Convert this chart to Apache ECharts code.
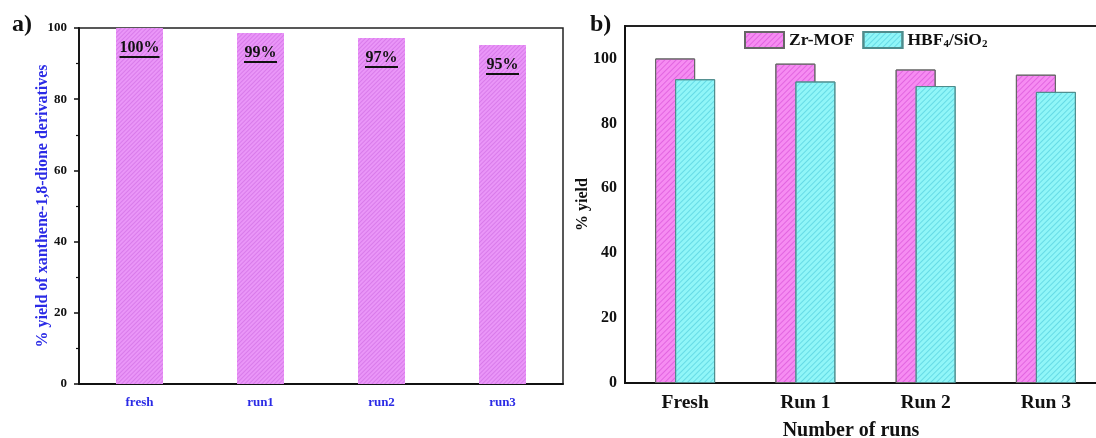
<!DOCTYPE html>
<html>
<head>
<meta charset="utf-8">
<script src="https://cdn.jsdelivr.net/npm/echarts@6/dist/echarts.min.js"></script>
<style>html,body{margin:0;padding:0;background:#fff;overflow:hidden;width:1096px;height:438px;}#c{width:1112px;height:438px;}</style>
</head>
<body>
<div id="c"></div>
<script>
// ---- Panel a) data ----
const catsA = ['fresh', 'run1', 'run2', 'run3'];
const yieldA = [100, 98.6, 97.2, 95.2];
const labelsA = ['100%', '99%', '97%', '95%'];
// ---- Panel b) data ----
const catsB = ['Fresh', 'Run 1', 'Run 2', 'Run 3'];
const zrMof = [100, 98.4, 96.6, 95.0];
const hbf4 = [93.6, 92.9, 91.5, 89.7];
const seriesNamesB = ['Zr-MOF', 'HBF4/SiO2'];

const SERIF = '"Liberation Serif", "DejaVu Serif", serif';
const BLUE = '#2b2be6';

function hatch(color, gap) {
  return { symbol: 'rect', symbolSize: 1, dashArrayX: [1, 0], dashArrayY: [1, gap], rotation: -Math.PI / 4, color: color };
}

const chart = echarts.init(document.getElementById('c'), null, { renderer: 'canvas' });
const option = {
  animation: false,
  backgroundColor: '#fff',
  grid: [
    { left: 79, top: 28, width: 484, height: 356, show: true, borderColor: '#222', borderWidth: 1.5, containLabel: false },
    { left: 625, top: 26, width: 481, height: 357, show: true, borderColor: '#222', borderWidth: 1.8, containLabel: false }
  ],
  legend: {
    left: 739, top: 26, itemWidth: 39, itemHeight: 16, itemGap: 8, icon: 'rect',
    data: seriesNamesB,
    formatter: function (n) { return n === 'HBF4/SiO2' ? 'HBF{s|4}/SiO{s|2}' : n; },
    textStyle: {
      fontFamily: SERIF, fontWeight: 'bold', fontSize: 17.5, color: '#111',
      rich: { s: { fontFamily: SERIF, fontWeight: 'bold', fontSize: 11, color: '#111', verticalAlign: 'bottom', padding: [9, 0, 0, 0] } }
    }
  },
  xAxis: [
    {
      gridIndex: 0, type: 'category', data: catsA, position: 'bottom',
      axisLine: { lineStyle: { color: '#111', width: 1.8 } },
      axisTick: { alignWithLabel: true, length: 6, lineStyle: { color: '#111', width: 1.5 } },
      axisLabel: { color: BLUE, fontFamily: SERIF, fontWeight: 'bold', fontSize: 13, margin: 12 },
      splitLine: { show: false }
    },
    {
      gridIndex: 0, type: 'category', data: catsA, position: 'bottom',
      axisLine: { show: false },
      axisTick: { length: 3, lineStyle: { color: '#111', width: 1.2 } },
      axisLabel: { show: false }, splitLine: { show: false }
    },
    {
      gridIndex: 1, type: 'category', data: catsB, position: 'bottom',
      axisLine: { lineStyle: { color: '#111', width: 2 } },
      axisTick: { alignWithLabel: true, length: 6, lineStyle: { color: '#111', width: 1.5 } },
      axisLabel: { color: '#111', fontFamily: SERIF, fontWeight: 'bold', fontSize: 19.5, margin: 10 },
      splitLine: { show: false }
    },
    {
      gridIndex: 1, type: 'category', data: catsB, position: 'bottom',
      axisLine: { show: false },
      axisTick: { length: 4, lineStyle: { color: '#111', width: 1.2 } },
      axisLabel: { show: false }, splitLine: { show: false }
    }
  ],
  yAxis: [
    {
      gridIndex: 0, type: 'value', min: 0, max: 100, interval: 20,
      name: '% yield of xanthene-1,8-dione derivatives', nameLocation: 'middle', nameGap: 28, nameMoveOverlap: false,
      nameTextStyle: { color: BLUE, fontFamily: SERIF, fontWeight: 'bold', fontSize: 16 },
      axisLine: { show: true, lineStyle: { color: '#111', width: 1.8 } },
      axisTick: { show: true, length: 5, lineStyle: { color: '#111', width: 1.5 } },
      minorTick: { show: true, splitNumber: 2, length: 3, lineStyle: { color: '#111', width: 1.2 } },
      axisLabel: { color: '#111', fontFamily: SERIF, fontWeight: 'bold', fontSize: 13, margin: 12 },
      splitLine: { show: false }
    },
    {
      gridIndex: 1, type: 'value', min: 0, max: 110, interval: 20,
      name: '% yield', nameLocation: 'middle', nameGap: 34, nameMoveOverlap: false,
      nameTextStyle: { color: '#111', fontFamily: SERIF, fontWeight: 'bold', fontSize: 16 },
      axisLine: { show: true, lineStyle: { color: '#111', width: 2 } },
      axisTick: { show: false },
      axisLabel: { color: '#111', fontFamily: SERIF, fontWeight: 'bold', fontSize: 16, margin: 8, showMaxLabel: false },
      splitLine: { show: false }
    }
  ],
  series: [
    {
      name: 'a', type: 'bar', xAxisIndex: 0, yAxisIndex: 0, data: yieldA, barWidth: 47,
      itemStyle: { color: '#ea96f8', decal: hatch('rgba(205,105,225,0.6)', 2) },
      label: {
        show: true, position: 'insideTop', distance: 11,
        formatter: function (p) { const t = labelsA[p.dataIndex]; return '{t|' + t + '}\n{' + (t.length > 3 ? 'u4' : 'u3') + '|}'; },
        rich: {
          t: { fontFamily: SERIF, fontWeight: 'bold', fontSize: 16, color: '#111', lineHeight: 17 },
          u4: { width: 40, height: 2, backgroundColor: '#111' },
          u3: { width: 33, height: 2, backgroundColor: '#111' }
        }
      }
    },
    {
      name: seriesNamesB[0], type: 'bar', xAxisIndex: 2, yAxisIndex: 1, data: zrMof, barWidth: 40, barGap: '-50%',
      itemStyle: { color: '#f68cf2', borderColor: '#666', borderWidth: 1, decal: hatch('rgba(215,80,215,0.65)', 3) }
    },
    {
      name: seriesNamesB[1], type: 'bar', xAxisIndex: 2, yAxisIndex: 1, data: hbf4, barWidth: 40, barGap: '-50%',
      itemStyle: { color: '#90f6f8', borderColor: '#4f8c8c', borderWidth: 1, decal: hatch('rgba(80,205,220,0.65)', 3) }
    }
  ],
  graphic: [
    { type: 'text', left: 12, top: 13, style: { text: 'a)', fontFamily: SERIF, fontWeight: 'bold', fontSize: 24, fill: '#111' } },
    { type: 'text', left: 590, top: 13, style: { text: 'b)', fontFamily: SERIF, fontWeight: 'bold', fontSize: 24, fill: '#111' } },
    { type: 'text', x: 851, y: 431, style: { text: 'Number of runs', fontFamily: SERIF, fontWeight: 'bold', fontSize: 20, fill: '#111', align: 'center', verticalAlign: 'middle' } }
  ]
};
chart.setOption(option);
</script>
</body>
</html>
